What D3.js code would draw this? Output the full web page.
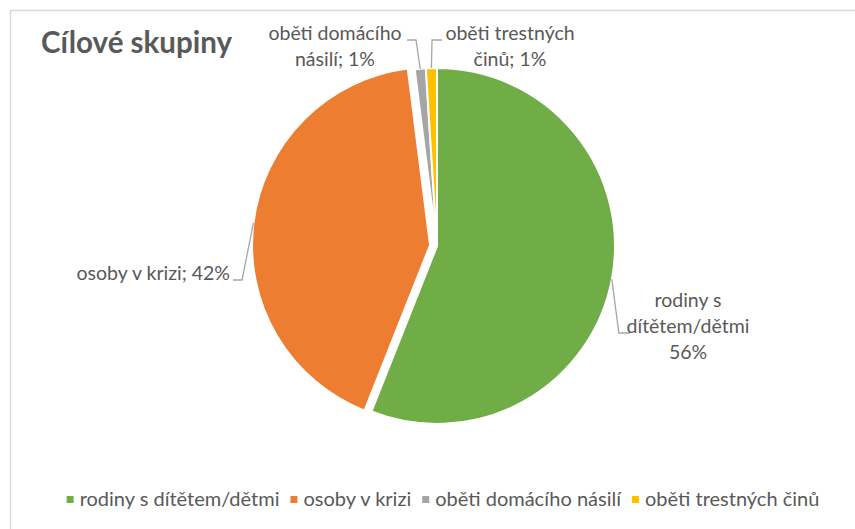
<!DOCTYPE html>
<html>
<head>
<meta charset="utf-8">
<script src="https://cdn.jsdelivr.net/npm/d3@7"></script>
<style>
  body { margin: 0; background: #fff; }
  svg { display: block; font-family: Lato, "Open Sans", sans-serif; }
</style>
</head>
<body>
<svg width="855" height="529"></svg>
<script>
// Data
const categories = ["rodiny s dítětem/dětmi", "osoby v krizi", "oběti domácího násilí", "oběti trestných činů"];
const values = [56, 42, 1, 1];
const colors = ["#70AD47", "#ED7D31", "#A5A5A5", "#FFC000"];
const labelLines = [
  ["rodiny s", "dítětem/dětmi", "56%"],
  ["osoby v krizi; 42%"],
  ["oběti domácího", "násilí; 1%"],
  ["oběti trestných", "činů; 1%"]
];
const explode = [0, 7, 0, 0];

const svg = d3.select("svg");
const textColor = "#595959";

// chart frame (only left/top edges show in the window)
svg.append("rect")
   .attr("x", 10.5).attr("y", 10.5)
   .attr("width", 900).attr("height", 600)
   .attr("fill", "none")
   .attr("stroke", "#d9d9d9")
   .attr("stroke-width", 1.5);

// Title
svg.append("text")
   .attr("x", 41).attr("y", 53)
   .attr("font-size", "29.5px")
   .attr("font-weight", "bold")
   .attr("fill", textColor)
   .text("Cílové skupiny");

const cx = 437, cy = 246, r = 178;

const pie = d3.pie().sort(null).value(d => d);
const arcs = pie(values);
const arc = d3.arc().innerRadius(0).outerRadius(r);

const g = svg.append("g").attr("transform", `translate(${cx},${cy})`);

const offset = (d, i) => {
  const mid = (d.startAngle + d.endAngle) / 2;
  return [explode[i] * Math.sin(mid), -explode[i] * Math.cos(mid)];
};

g.selectAll("path.slice")
 .data(arcs)
 .enter()
 .append("path")
 .attr("class", "slice")
 .attr("d", arc)
 .attr("transform", (d, i) => `translate(${offset(d, i)})`)
 .attr("fill", (d, i) => colors[i])
 .attr("stroke", "#fff")
 .attr("stroke-width", 2);

// leader anchor on the slice edge, at its mid angle
const anchor = (i) => {
  const d = arcs[i];
  const mid = (d.startAngle + d.endAngle) / 2;
  const [ox, oy] = offset(d, i);
  return [cx + ox + r * Math.sin(mid), cy + oy - r * Math.cos(mid)];
};

// label layout: text position, anchor, leader elbow
const labelLayout = [
  {x: 688, y: 307, anchor: "middle", leader: a => [a, [a[0] + 7, 333], [630, 333]]},
  {x: 230, y: 280, anchor: "end", leader: a => [a, [242, 280], [233, 280]]},
  {x: 335, y: 40, anchor: "middle", leader: a => [a, [416, 40], [407, 40]]},
  {x: 510, y: 40, anchor: "middle", leader: a => [a, [432, 40], [442, 40]]}
];

const line = d3.line();
labelLayout.forEach((L, i) => {
  svg.append("path")
     .attr("d", line(L.leader(anchor(i))))
     .attr("fill", "none")
     .attr("stroke", "#a6a6a6")
     .attr("stroke-width", 1.3);

  const t = svg.append("text")
     .attr("x", L.x).attr("y", L.y)
     .attr("text-anchor", L.anchor)
     .attr("font-size", "19.5px")
     .attr("fill", textColor);
  labelLines[i].forEach((s, j) => {
    t.append("tspan").attr("x", L.x).attr("dy", j === 0 ? 0 : 26).text(s);
  });
});

// Legend, centred along the bottom
const legend = svg.append("g");
let lx = 0;
categories.forEach((c, i) => {
  const item = legend.append("g").attr("transform", `translate(${lx},0)`);
  item.append("rect")
      .attr("x", 0).attr("y", -10)
      .attr("width", 7).attr("height", 7)
      .attr("fill", colors[i]);
  const t = item.append("text")
      .attr("x", 13).attr("y", 0)
      .attr("font-size", "20px")
      .attr("fill", textColor)
      .text(c);
  lx += 13 + t.node().getComputedTextLength() + 11;
});
const legendW = lx - 11;
legend.attr("transform", `translate(${443 - legendW / 2},506)`);
</script>
</body>
</html>
